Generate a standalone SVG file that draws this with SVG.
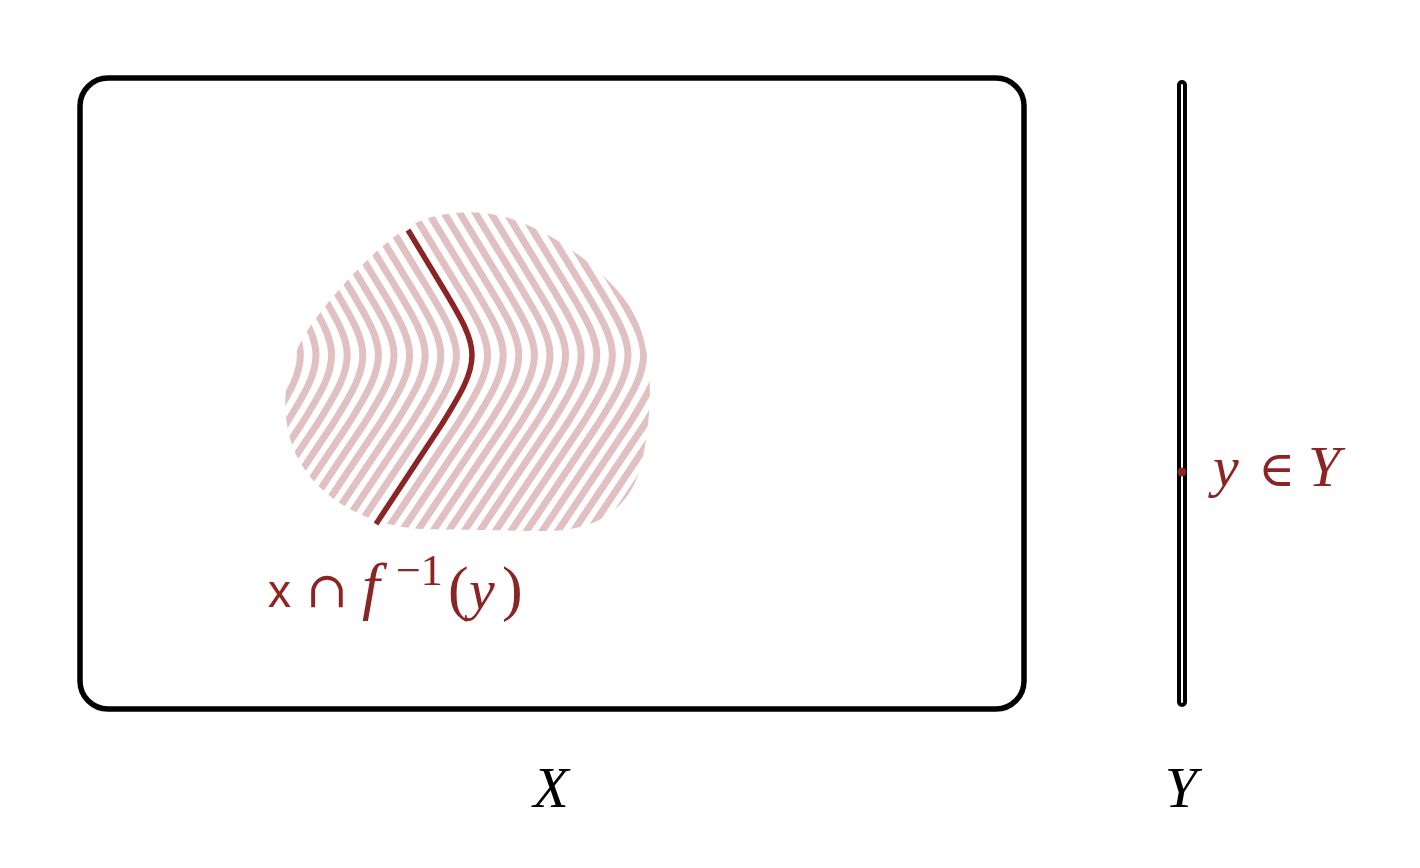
<svg xmlns="http://www.w3.org/2000/svg" xmlns:xlink="http://www.w3.org/1999/xlink" width="1420" height="868" viewBox="0 0 1420 868">
<style>
.frame{fill:none;stroke:#000;stroke-width:5.5}
.bar{fill:#fff;stroke:#000;stroke-width:4}
.hatch{fill:none;stroke:#e0c0c0;stroke-width:7}
.fiber{fill:none;stroke:#8b2424;stroke-width:5.5}
.red{fill:#8b2424}
.lbl{font-family:"Liberation Serif","DejaVu Serif",serif;font-size:58px}
.it{font-style:italic}
.sans{font-family:"Liberation Sans","DejaVu Sans",sans-serif}
.sym{font-family:"DejaVu Serif","Liberation Serif",serif}
</style>
<defs>
<path id="s" d="M 395 209 L 443 288 C 463 321 472 338 472 355 C 472 374 462 392 442 424 L 368 535"/>
<clipPath id="blob">
<path d="M 407 228 C 430 212 480 205 520 222 C 562 238 612 275 635 315 C 656 360 652 420 640 470 C 625 515 590 532 540 531 L 420 529 C 360 525 300 490 288 430 C 280 390 290 350 320 313 C 345 280 380 245 407 228 Z"/>
</clipPath>
</defs>
<g id="X">
<rect class="frame" x="80" y="78" width="944" height="631" rx="28"/>
</g>
<g id="region" clip-path="url(#blob)">
<use href="#s" xlink:href="#s" class="hatch" x="-187"/>
<use href="#s" xlink:href="#s" class="hatch" x="-171.6"/>
<use href="#s" xlink:href="#s" class="hatch" x="-156"/>
<use href="#s" xlink:href="#s" class="hatch" x="-140.4"/>
<use href="#s" xlink:href="#s" class="hatch" x="-124.8"/>
<use href="#s" xlink:href="#s" class="hatch" x="-109.2"/>
<use href="#s" xlink:href="#s" class="hatch" x="-93.6"/>
<use href="#s" xlink:href="#s" class="hatch" x="-78"/>
<use href="#s" xlink:href="#s" class="hatch" x="-62.4"/>
<use href="#s" xlink:href="#s" class="hatch" x="-46.8"/>
<use href="#s" xlink:href="#s" class="hatch" x="-31.2"/>
<use href="#s" xlink:href="#s" class="hatch" x="-15.6"/>
<use href="#s" xlink:href="#s" class="hatch" x="15.6"/>
<use href="#s" xlink:href="#s" class="hatch" x="31.2"/>
<use href="#s" xlink:href="#s" class="hatch" x="46.8"/>
<use href="#s" xlink:href="#s" class="hatch" x="62.4"/>
<use href="#s" xlink:href="#s" class="hatch" x="78"/>
<use href="#s" xlink:href="#s" class="hatch" x="93.6"/>
<use href="#s" xlink:href="#s" class="hatch" x="109.2"/>
<use href="#s" xlink:href="#s" class="hatch" x="124.8"/>
<use href="#s" xlink:href="#s" class="hatch" x="140.4"/>
<use href="#s" xlink:href="#s" class="hatch" x="156"/>
<use href="#s" xlink:href="#s" class="hatch" x="171.6"/>
<use href="#s" xlink:href="#s" class="hatch" x="187.2"/>
<use href="#s" xlink:href="#s" class="hatch" x="202.8"/>
<use href="#s" xlink:href="#s" class="hatch" x="218.4"/>
<use href="#s" xlink:href="#s" class="hatch" x="234"/>
<use href="#s" xlink:href="#s" class="hatch" x="249.6"/>
<use href="#s" xlink:href="#s" class="hatch" x="265.2"/>
</g>
<g id="fiber">
<path class="fiber" d="M 408 230 L 443 288 C 463 321 472 338 472 355 C 472 374 462 392 442 424 L 376 524"/>
</g>
<g id="Y">
<rect class="bar" x="1179" y="82" width="6" height="623" rx="3"/>
<circle class="red" cx="1182" cy="472" r="4.5"/>
</g>
<g id="labels">
<text class="lbl red" y="607"><tspan class="sans" x="268" font-size="46">x</tspan><tspan class="sym" x="306" font-size="50">∩</tspan><tspan class="it" x="362" font-size="64">f</tspan><tspan x="396" y="585" font-size="44">−1</tspan><tspan x="448" y="609" font-size="62">(</tspan><tspan class="it" x="469">y</tspan><tspan x="502" y="609" font-size="62">)</tspan></text>
<text class="lbl red" y="486"><tspan class="it" x="1213">y</tspan><tspan class="sym" x="1258" font-size="50">∈</tspan><tspan class="it" x="1308">Y</tspan></text>
<text class="lbl it" x="551" y="807" text-anchor="middle">X</text>
<text class="lbl it" x="1181" y="807" text-anchor="middle">Y</text>
</g>
</svg>
